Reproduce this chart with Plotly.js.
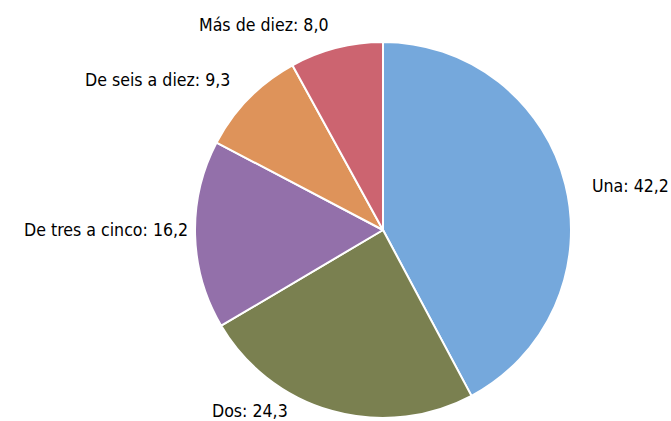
<!DOCTYPE html>
<html>
<head>
<meta charset="utf-8">
<script src="https://cdn.plot.ly/plotly-3.0.1.min.js"></script>
<style>html,body{margin:0;padding:0;background:#fff;}#chart{width:671px;height:421px;}</style>
</head>
<body>
<div id="chart"></div>
<script>
const categories = ["Una", "Dos", "De tres a cinco", "De seis a diez", "Más de diez"];
const values = [42.2, 24.3, 16.2, 9.3, 8.0];
const colors = ["#75A8DC", "#7A8050", "#9370AA", "#DE935A", "#CC6470"];

// label placement (pixels in the 671x421 canvas): [x, y, anchor]
const labelPlacement = [
  [590, 186, "left"],
  [290, 411, "right"],
  [190, 230, "right"],
  [232, 80, "right"],
  [330, 25, "right"]
];

const W = 671, H = 421;
const fmt = v => v.toFixed(1).replace(".", ",");

const annotations = categories.map((c, i) => ({
  xref: "paper", yref: "paper",
  x: labelPlacement[i][0] / W,
  y: 1 - labelPlacement[i][1] / H,
  xanchor: labelPlacement[i][2],
  yanchor: "middle",
  showarrow: false,
  text: c + ": " + fmt(values[i]),
  font: {family: "Liberation Sans Narrow, DejaVu Sans Condensed, Arial Narrow, sans-serif", size: 17.6, color: "#000"}
}));

const cx = 383, cy = 230, r = 188;
const data = [{
  type: "pie",
  labels: categories,
  values: values,
  sort: false,
  direction: "clockwise",
  rotation: 0,
  textinfo: "none",
  hoverinfo: "label+value",
  marker: {colors: colors, line: {color: "#ffffff", width: 2}},
  domain: {x: [(cx - r) / W, (cx + r) / W], y: [1 - (cy + r) / H, 1 - (cy - r) / H]},
  showlegend: false
}];

const layout = {
  width: W, height: H,
  margin: {l: 0, r: 0, t: 0, b: 0},
  paper_bgcolor: "#ffffff",
  plot_bgcolor: "#ffffff",
  separators: ",.",
  showlegend: false,
  annotations: annotations
};

Plotly.newPlot("chart", data, layout, {displayModeBar: false, staticPlot: true});
</script>
</body>
</html>
